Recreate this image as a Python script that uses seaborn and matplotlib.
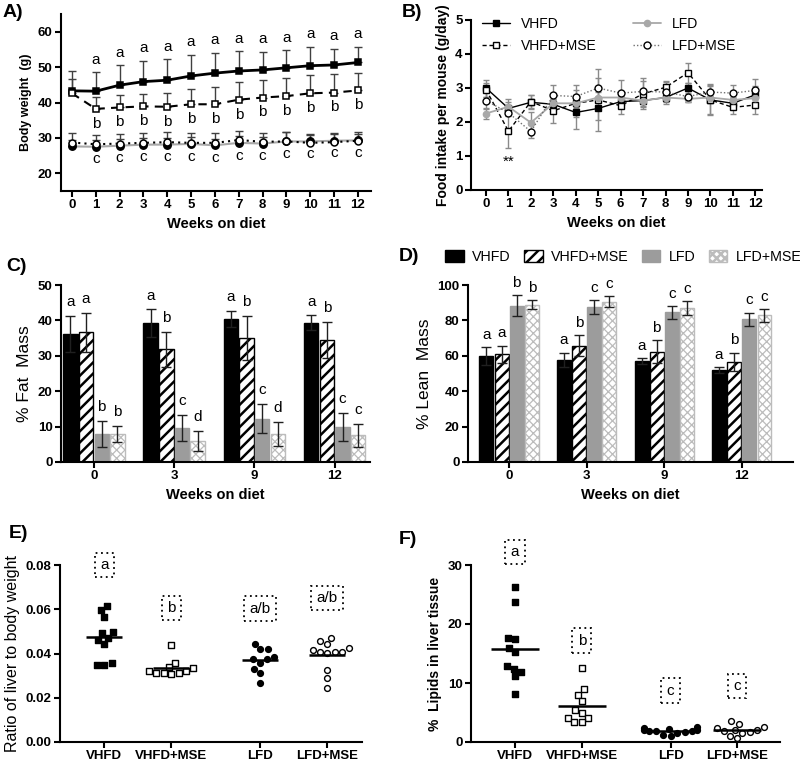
import numpy as np
import pandas as pd
import seaborn as sns
import matplotlib.pyplot as plt
from matplotlib.container import BarContainer
from matplotlib.ticker import FormatStrFormatter

# ---------------- data ----------------
groups = ["VHFD", "VHFD+MSE", "LFD", "LFD+MSE"]
weeks = np.arange(13)

# A) body weight (g): mean and SD
bw_vhfd = [43.3, 43.2, 44.9, 45.9, 46.3, 47.5, 48.3, 48.9, 49.2, 49.8, 50.4, 50.6, 51.3]
bw_vhfd_sd = [5.5, 5.4, 5.7, 5.9, 6.0, 6.0, 5.8, 5.6, 5.1, 5.0, 5.4, 4.6, 4.5]
bw_vhfd_mse = [42.6, 38.2, 38.6, 38.9, 38.8, 39.5, 39.5, 40.8, 41.4, 41.8, 42.6, 42.8, 43.4]
bw_vhfd_mse_sd = [4.0, 3.3, 3.4, 3.6, 4.0, 4.3, 4.8, 4.9, 5.0, 5.1, 5.2, 5.2, 4.9]
bw_lfd = [27.6, 27.5, 27.8, 28.1, 28.1, 28.3, 27.9, 28.6, 28.4, 29.0, 29.0, 29.2, 29.3]
bw_lfd_sd = [1.8, 1.8, 1.8, 1.9, 1.9, 1.9, 1.9, 1.9, 1.9, 2.6, 1.8, 1.8, 1.9]
bw_lfd_mse = [28.7, 28.2, 28.4, 28.6, 28.8, 28.6, 28.6, 29.4, 28.9, 29.0, 28.6, 28.8, 29.2]
bw_lfd_mse_sd = [2.6, 2.5, 2.7, 2.8, 2.8, 2.9, 2.8, 2.5, 2.5, 2.6, 2.5, 2.5, 2.4]
bw_letters_a = ["", "a", "a", "a", "a", "a", "a", "a", "a", "a", "a", "a", "a"]
bw_letters_b = ["", "b", "b", "b", "b", "b", "b", "b", "b", "b", "b", "b", "b"]
bw_letters_c = ["", "c", "c", "c", "c", "c", "c", "c", "c", "c", "c", "c", "c"]

# B) food intake (g/day): mean and SD
fi_vhfd = [3.0, 2.4, 2.58, 2.52, 2.28, 2.4, 2.6, 2.63, 2.72, 3.0, 2.65, 2.55, 2.8]
fi_vhfd_sd = [0.25, 0.2, 0.2, 0.15, 0.5, 0.35, 0.2, 0.2, 0.2, 0.15, 0.4, 0.15, 0.25]
fi_vhfd_mse = [2.95, 1.73, 2.6, 2.33, 2.55, 2.65, 2.48, 2.83, 3.02, 3.45, 2.65, 2.43, 2.5]
fi_vhfd_mse_sd = [0.2, 0.48, 0.2, 0.35, 0.4, 0.9, 0.25, 0.45, 0.2, 0.3, 0.45, 0.2, 0.25]
fi_lfd = [2.25, 2.45, 1.98, 2.55, 2.55, 2.72, 2.72, 2.63, 2.72, 2.68, 2.72, 2.65, 2.7]
fi_lfd_sd = [0.15, 0.22, 0.3, 0.1, 0.1, 0.15, 0.15, 0.15, 0.1, 0.1, 0.1, 0.1, 0.15]
fi_lfd_mse = [2.63, 2.27, 1.72, 2.78, 2.75, 3.0, 2.85, 2.9, 2.88, 2.75, 2.88, 2.85, 2.93]
fi_lfd_mse_sd = [0.25, 0.1, 0.2, 0.3, 0.35, 0.3, 0.4, 0.3, 0.3, 0.15, 0.25, 0.25, 0.33]

# C) % fat mass, D) % lean mass at weeks 0, 3, 9, 12
bar_weeks = ["0", "3", "9", "12"]
fat_vhfd = [36.2, 39.2, 40.4, 39.3]
fat_vhfd_sd = [5.0, 3.9, 2.2, 2.1]
fat_vhfd_mse = [36.6, 31.8, 35.0, 34.5]
fat_vhfd_mse_sd = [5.5, 5.0, 6.3, 5.0]
fat_lfd = [7.9, 9.6, 12.2, 9.9]
fat_lfd_sd = [3.8, 3.8, 4.1, 3.9]
fat_lfd_mse = [7.9, 5.9, 7.9, 7.5]
fat_lfd_mse_sd = [2.3, 2.9, 3.5, 3.3]
fat_letters = [["a", "a", "a", "a"], ["a", "b", "b", "b"], ["b", "c", "c", "c"], ["b", "d", "d", "c"]]

lean_vhfd = [60.0, 57.8, 57.0, 52.0]
lean_vhfd_sd = [5.0, 4.0, 1.8, 1.5]
lean_vhfd_mse = [60.8, 65.7, 62.2, 56.5]
lean_vhfd_mse_sd = [5.0, 6.0, 6.5, 5.3]
lean_lfd = [88.3, 87.6, 84.5, 80.6]
lean_lfd_sd = [6.0, 3.8, 3.5, 3.7]
lean_lfd_mse = [88.8, 90.6, 87.1, 82.8]
lean_lfd_mse_sd = [2.5, 3.2, 3.8, 3.5]
lean_letters = [["a", "a", "a", "a"], ["a", "b", "b", "b"], ["b", "c", "c", "c"], ["b", "c", "c", "c"]]

# E) liver / body weight ratio, F) % lipids in liver (individual mice)
liver_vhfd = [0.0616, 0.0596, 0.0566, 0.0494, 0.0495, 0.0471, 0.0463, 0.0442, 0.0355, 0.0350, 0.0350]
liver_vhfd_mse = [0.0439, 0.0355, 0.0337, 0.0335, 0.0320, 0.0312, 0.0306, 0.0312, 0.0312, 0.0320]
liver_lfd = [0.0445, 0.0420, 0.0420, 0.0385, 0.0373, 0.0377, 0.0359, 0.0328, 0.0312, 0.0267]
liver_lfd_mse = [0.0471, 0.0456, 0.0442, 0.0423, 0.0408, 0.0405, 0.0403, 0.0408, 0.0417, 0.0325, 0.0290, 0.0246]
liver_letters = ["a", "b", "a/b", "a/b"]
liver_letter_y = [0.080, 0.0605, 0.0603, 0.0651]

lipid_vhfd = [26.2, 23.8, 17.7, 17.5, 16.0, 15.2, 12.9, 12.4, 11.9, 11.2, 8.1]
lipid_vhfd_mse = [12.5, 8.9, 8.0, 6.9, 5.5, 4.9, 4.1, 4.1, 3.4, 3.4]
lipid_lfd = [2.5, 2.4, 2.2, 2.1, 2.0, 1.9, 1.8, 1.8, 1.7, 1.6, 1.2, 1.0]
lipid_lfd_mse = [3.5, 3.1, 2.5, 2.4, 2.1, 2.0, 1.8, 1.7, 1.6, 1.1, 0.7]
lipid_letters = ["a", "b", "c", "c"]
lipid_letter_y = [32.2, 17.2, 8.7, 9.5]

group_pos = [0, 1, 2.33, 3.33]

# ---------------- style ----------------
sns.set_theme(style="ticks", rc={
    "axes.edgecolor": "black", "axes.labelcolor": "black", "text.color": "black",
    "xtick.color": "black", "ytick.color": "black", "axes.linewidth": 1.5,
})
plt.rcParams["font.family"] = ["Liberation Sans", "DejaVu Sans"]
plt.rcParams["hatch.linewidth"] = 1.8

W, H = 800, 764
fig = plt.figure(figsize=(W / 100, H / 100), dpi=100)


def px_axes(l, t, r, b):
    return fig.add_axes([l / W, 1 - b / H, (r - l) / W, (b - t) / H])


def finish(ax, size=9.5):
    sns.despine(ax=ax)
    ax.tick_params(direction="out", length=4, width=1.5, labelsize=size, pad=2)
    plt.setp(ax.get_xticklabels() + ax.get_yticklabels(), fontweight="bold")


def panel_label(x, y, s):
    fig.text(x / W, 1 - y / H, s, fontsize=14, fontweight="bold", va="top", ha="left")


# ---------------- A) body weight ----------------
axA = px_axes(61, 14, 371, 191)
a_specs = [
    (bw_vhfd, bw_vhfd_sd, dict(color="black", marker="s", markersize=5, linewidth=2,
                               linestyle="-", markerfacecolor="black")),
    (bw_vhfd_mse, bw_vhfd_mse_sd, dict(color="black", marker="s", markersize=5, linewidth=1.5,
                                       linestyle=(0, (4, 3)), markerfacecolor="white")),
    (bw_lfd, bw_lfd_sd, dict(color="#a8a8a8", marker="o", markersize=5.3, linewidth=1.5,
                             linestyle="-", markerfacecolor="black")),
    (bw_lfd_mse, bw_lfd_mse_sd, dict(color="black", marker="o", markersize=5, linewidth=1.5,
                                     linestyle=(0, (1, 2)), markerfacecolor="white")),
]
for vals, sd, kw in a_specs:
    axA.errorbar(weeks, vals, yerr=[np.zeros(len(sd)), sd], fmt="none", ecolor="#404040",
                 elinewidth=1, capsize=3, capthick=1, zorder=1)
    sns.lineplot(x=weeks, y=vals, ax=axA, errorbar=None, markeredgecolor="black",
                 markeredgewidth=1.1, zorder=3, **kw)
for w in weeks:
    axA.text(w, bw_vhfd[w] + bw_vhfd_sd[w] + 3.5, bw_letters_a[w], ha="center", va="center", fontsize=11)
    axA.text(w, bw_vhfd_mse[w] - 4.2, bw_letters_b[w], ha="center", va="center", fontsize=11)
    axA.text(w, bw_lfd[w] - 3.6, bw_letters_c[w], ha="center", va="center", fontsize=11)
axA.set_xlim(-0.46, 12.55)
axA.set_ylim(15, 65)
axA.set_xticks(weeks)
axA.set_yticks([20, 30, 40, 50, 60])
axA.set_xlabel("Weeks on diet", fontsize=10.5, fontweight="bold")
axA.set_ylabel("Body weight  (g)", fontsize=9, fontweight="bold")
finish(axA)

# ---------------- B) food intake ----------------
axB = px_axes(471, 20, 762, 190)
b_specs = [
    ("VHFD", fi_vhfd, fi_vhfd_sd, dict(color="black", marker="s", markersize=5, linewidth=1,
                                       linestyle="-", markerfacecolor="black", markeredgecolor="black")),
    ("VHFD+MSE", fi_vhfd_mse, fi_vhfd_mse_sd, dict(color="black", marker="s", markersize=5, linewidth=1,
                                                   linestyle=(0, (3, 2)), markerfacecolor="white",
                                                   markeredgecolor="black")),
    ("LFD", fi_lfd, fi_lfd_sd, dict(color="#a8a8a8", marker="o", markersize=4.5, linewidth=1.3,
                                    linestyle="-", markerfacecolor="#a8a8a8", markeredgecolor="#a8a8a8")),
    ("LFD+MSE", fi_lfd_mse, fi_lfd_mse_sd, dict(color="#707070", marker="o", markersize=5, linewidth=1,
                                                linestyle=(0, (1, 1.5)), markerfacecolor="white",
                                                markeredgecolor="black")),
]
for name, vals, sd, kw in b_specs:
    axB.errorbar(weeks, vals, yerr=sd, fmt="none", ecolor="#8a8a8a", elinewidth=1,
                 capsize=2.5, capthick=1, zorder=1)
    sns.lineplot(x=weeks, y=vals, ax=axB, errorbar=None, markeredgewidth=1, label=name, zorder=3, **kw)
axB.text(1, 0.83, "**", ha="center", va="center", fontsize=11)
axB.set_xlim(-0.67, 12.3)
axB.set_ylim(0, 5)
axB.set_xticks(weeks)
axB.set_yticks([0, 1, 2, 3, 4, 5])
axB.set_xlabel("Weeks on diet", fontsize=10.5, fontweight="bold")
axB.set_ylabel("Food intake per mouse (g/day)", fontsize=10, fontweight="bold")
axB.legend(loc="upper left", bbox_to_anchor=(0.02, 1.05), ncol=2, frameon=False, fontsize=10,
           handlelength=2.0, columnspacing=2.6, labelspacing=0.55, borderaxespad=0)
finish(axB)

# ---------------- C) and D) bar charts ----------------
bar_colors = ["black", "white", "#9c9c9c", "white"]
bar_edges = ["black", "black", "#9c9c9c", "#bcbcbc"]
bar_hatches = [None, "///", None, "xxxx"]
bar_hatch_lw = [1.8, 1.8, 1.8, 0.9]


def bar_panel(ax, means, sds, letters, offset):
    df = pd.concat([pd.DataFrame({"week": bar_weeks, "group": g, "value": m})
                    for g, m in zip(groups, means)], ignore_index=True)
    sns.barplot(data=df, x="week", y="value", hue="group", order=bar_weeks, hue_order=groups,
                palette=bar_colors, saturation=1, width=0.78, gap=0.08, errorbar=None,
                legend=False, ax=ax)
    bars = [c for c in ax.containers if isinstance(c, BarContainer)]
    for i, cont in enumerate(bars):
        for j, p in enumerate(cont.patches):
            p.set_edgecolor(bar_edges[i])
            p.set_linewidth(1)
            if bar_hatches[i]:
                p.set_hatch(bar_hatches[i])
                if hasattr(p, "set_hatch_linewidth"):
                    p.set_hatch_linewidth(bar_hatch_lw[i])
            cx = p.get_x() + p.get_width() / 2
            top = p.get_height()
            ax.errorbar(cx, top, yerr=sds[i][j], fmt="none", ecolor="#202020",
                        elinewidth=1, capsize=3.5, capthick=1, zorder=4)
            ax.text(cx, top + sds[i][j] + offset, letters[i][j], ha="center", va="center", fontsize=11)
    return bars


axC = px_axes(61, 285, 370, 462)
bar_panel(axC, [fat_vhfd, fat_vhfd_mse, fat_lfd, fat_lfd_mse],
          [fat_vhfd_sd, fat_vhfd_mse_sd, fat_lfd_sd, fat_lfd_mse_sd], fat_letters, 3.9)
axC.set_xlim(-0.41, 3.44)
axC.set_ylim(0, 50)
axC.set_yticks([0, 10, 20, 30, 40, 50])
axC.set_xlabel("Weeks on diet", fontsize=10.5, fontweight="bold")
axC.set_ylabel("% Fat  Mass", fontsize=12.5)
finish(axC)

axD = px_axes(468, 285, 793, 462)
d_bars = bar_panel(axD, [lean_vhfd, lean_vhfd_mse, lean_lfd, lean_lfd_mse],
                   [lean_vhfd_sd, lean_vhfd_mse_sd, lean_lfd_sd, lean_lfd_mse_sd], lean_letters, 7)
axD.set_xlim(-0.53, 3.66)
axD.set_ylim(0, 100)
axD.set_yticks([0, 20, 40, 60, 80, 100])
axD.set_xlabel("Weeks on diet", fontsize=10.5, fontweight="bold")
axD.set_ylabel("% Lean  Mass", fontsize=12.5)
axD.legend([c.patches[0] for c in d_bars], groups, loc="center left",
           bbox_to_anchor=(-0.07, 1.158), ncol=4, frameon=False, fontsize=10.3,
           handlelength=1.3, handleheight=0.9, handletextpad=0.6, columnspacing=0.9,
           borderpad=0, borderaxespad=0)
finish(axD)

# ---------------- E) and F) individual values ----------------
point_markers = ["s", "s", "o", "o"]
point_faces = ["black", "white", "black", "white"]
box_style = dict(boxstyle="square,pad=0.35", fc="none", ec="black", ls=(0, (1, 2)), lw=1.3)


def dot_panel(ax, sets, letters, letter_y, half):
    for vals, pos, mk, fc in zip(sets, group_pos, point_markers, point_faces):
        sns.swarmplot(x=np.full(len(vals), pos), y=vals, native_scale=True, orient="x",
                      marker=mk, color=fc, edgecolor="black", linewidth=1, size=4.2, ax=ax)
        ax.hlines(np.mean(vals), pos - half, pos + half, color="black", lw=1.8, zorder=5)
    for pos, s, y in zip(group_pos, letters, letter_y):
        ax.text(pos, y, s, ha="center", va="center", fontsize=11, bbox=box_style, clip_on=False)
    ax.set_xticks(group_pos)
    ax.set_xticklabels(groups)


axE = px_axes(60, 565, 362, 742)
dot_panel(axE, [liver_vhfd, liver_vhfd_mse, liver_lfd, liver_lfd_mse], liver_letters, liver_letter_y, 0.27)
axE.set_xlim(-0.66, 3.85)
axE.set_ylim(0, 0.08)
axE.set_yticks([0, 0.02, 0.04, 0.06, 0.08])
axE.yaxis.set_major_formatter(FormatStrFormatter("%.2f"))
axE.set_ylabel("Ratio of liver to body weight", fontsize=11.5)
finish(axE)

axF = px_axes(471, 565, 780, 742)
dot_panel(axF, [lipid_vhfd, lipid_vhfd_mse, lipid_lfd, lipid_lfd_mse], lipid_letters, lipid_letter_y, 0.36)
axF.set_xlim(-0.66, 3.97)
axF.set_ylim(0, 30)
axF.set_yticks([0, 10, 20, 30])
axF.set_ylabel("%  Lipids in liver tissue", fontsize=10, fontweight="bold")
finish(axF)

# ---------------- panel letters ----------------
panel_label(3, 4, "A)")
panel_label(402, 4, "B)")
panel_label(6, 258, "C)")
panel_label(399, 248, "D)")
panel_label(9, 525, "E)")
panel_label(399, 531, "F)")

fig.savefig("out.png", dpi=100)
